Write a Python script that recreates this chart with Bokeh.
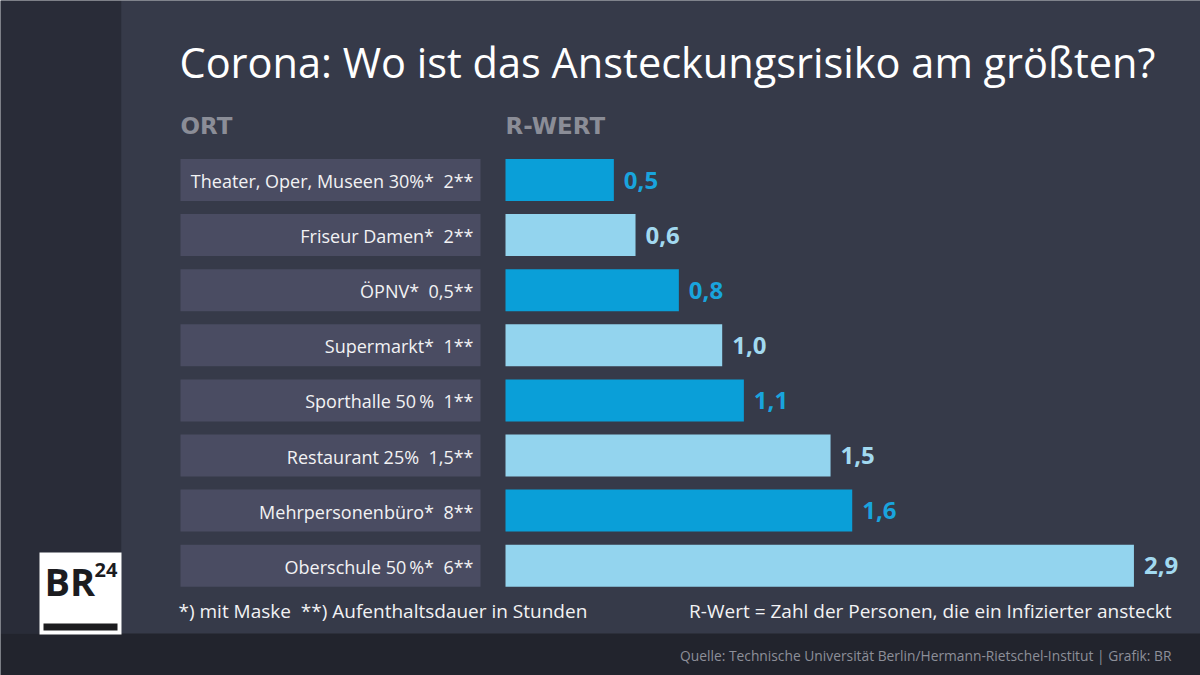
from bokeh.plotting import figure
from bokeh.models import Range1d, ColumnDataSource
from bokeh.core.properties import value
from bokeh.embed import file_html
from bokeh.resources import INLINE

# ---------------- data ----------------
title = "Corona: Wo ist das Ansteckungsrisiko am größten?"
header_ort = "ORT"
header_r = "R-WERT"
orte = [
    "Theater, Oper, Museen 30%*\u00a0 2**",
    "Friseur Damen*\u00a0 2**",
    "ÖPNV*\u00a0 0,5**",
    "Supermarkt*\u00a0 1**",
    "Sporthalle 50\u2009%\u00a0 1**",
    "Restaurant 25%\u00a0 1,5**",
    "Mehrpersonenbüro*\u00a0 8**",
    "Oberschule 50\u2009%*\u00a0 6**",
]
r_werte = [0.5, 0.6, 0.8, 1.0, 1.1, 1.5, 1.6, 2.9]
footnote_left = "*) mit Maske\u00a0 **) Aufenthaltsdauer in Stunden"
footnote_right = "R-Wert = Zahl der Personen, die ein Infizierter ansteckt"
source = "Quelle: Technische Universität Berlin/Hermann-Rietschel-Institut | Grafik: BR"

# ---------------- layout helpers ----------------
FONT = "Open Sans"
W, H = 1200, 675
X0 = 505.0      # reference pixel of R = 0
S = 216.7       # pixels per R unit


def dx(X):
    return (X - X0) / S


def dy(Y):
    return Y


p = figure(width=W, height=H, output_backend="svg", toolbar_location=None,
           x_range=Range1d(dx(0), dx(W)),
           y_range=Range1d(dy(H), dy(0)),
           min_border=0, outline_line_color=None)
p.axis.visible = False
p.grid.visible = False
p.background_fill_color = "#363a49"
p.border_fill_color = "#363a49"

# backgrounds
p.quad(left=[dx(0)], right=[dx(121)], top=[dy(0)], bottom=[dy(633)],
       color="#292c38", line_color=None)
p.quad(left=[dx(121)], right=[dx(1200)], top=[dy(0)], bottom=[dy(633)],
       color="#363a49", line_color=None)
p.quad(left=[dx(0)], right=[dx(1200)], top=[dy(633)], bottom=[dy(675)],
       color="#22242d", line_color=None)

# rows
n = len(orte)
centers = [dy(179.5 + 55.1 * i) for i in range(n)]
bar_colors = ["#0a9fd8" if i % 2 == 0 else "#93d4ee" for i in range(n)]
text_colors = ["#19a4dd" if i % 2 == 0 else "#a2d9f0" for i in range(n)]
value_labels = [f"{v:.1f}".replace(".", ",") for v in r_werte]

src = ColumnDataSource(dict(y=centers, ort=orte, r=r_werte, zero=[0] * n,
                            bc=bar_colors, tc=text_colors, lab=value_labels,
                            bl=[dx(180)] * n, br=[dx(480)] * n, tx=[dx(473)] * n))

# label boxes
p.hbar(y="y", left="bl", right="br", height=42, source=src,
       color="#4a4c62", line_color=None)
p.text(x="tx", y="y", text="ort", source=src, text_align="right", y_offset=1,
       text_baseline="middle", text_color="#f2f2f4", text_font_size="18px",
       text_font=value(FONT))

# bars
p.hbar(y="y", left="zero", right="r", height=42, source=src,
       fill_color="bc", line_color=None)
p.text(x="r", y="y", text="lab", source=src, x_offset=10, y_offset=0,
       text_baseline="middle", text_color="tc", text_font_size="24px",
       text_font_style="bold", text_font=value(FONT))

# title and headers
p.text(x=[dx(179)], y=[dy(61)], text=[title], text_color="#ffffff",
       text_font_size="41.5px", text_baseline="middle", text_font=value(FONT))
p.text(x=[dx(180)], y=[dy(125)], text=[header_ort], text_color="#8b8d97",
       text_font_size="23px", text_font_style="bold", text_baseline="middle",
       text_font=value("DejaVu Sans"))
p.text(x=[dx(505)], y=[dy(125)], text=[header_r], text_color="#8b8d97",
       text_font_size="23px", text_font_style="bold", text_baseline="middle",
       text_font=value("DejaVu Sans"))

# footnotes
p.text(x=[dx(178)], y=[dy(610)], text=[footnote_left], text_color="#f2f2f4",
       text_font_size="19px", text_baseline="middle", text_font=value(FONT))
p.text(x=[dx(1171)], y=[dy(610)], text=[footnote_right], text_color="#f2f2f4",
       text_font_size="19px", text_baseline="middle", text_align="right",
       text_font=value(FONT))
p.text(x=[dx(1171)], y=[dy(655)], text=[source], text_color="#8d8f99",
       text_font_size="13.8px", text_baseline="middle", text_align="right",
       text_font=value(FONT))

# logo
p.quad(left=[dx(39)], right=[dx(121)], top=[dy(552)], bottom=[dy(634)],
       color="#ffffff", line_color=None)
p.quad(left=[dx(43)], right=[dx(117)], top=[dy(623)], bottom=[dy(630)],
       color="#1c1c1f", line_color=None)
p.text(x=[dx(44)], y=[dy(580)], text=["BR"], text_color="#1c1c1f",
       text_font_size="38px", text_font_style="bold", text_baseline="middle",
       text_font=value(FONT))
p.text(x=[dx(94)], y=[dy(569)], text=["24"], text_color="#1c1c1f",
       text_font_size="20px", text_font_style="bold", text_baseline="middle",
       text_font=value(FONT))

open("out.html", "w").write(file_html(p, INLINE))
